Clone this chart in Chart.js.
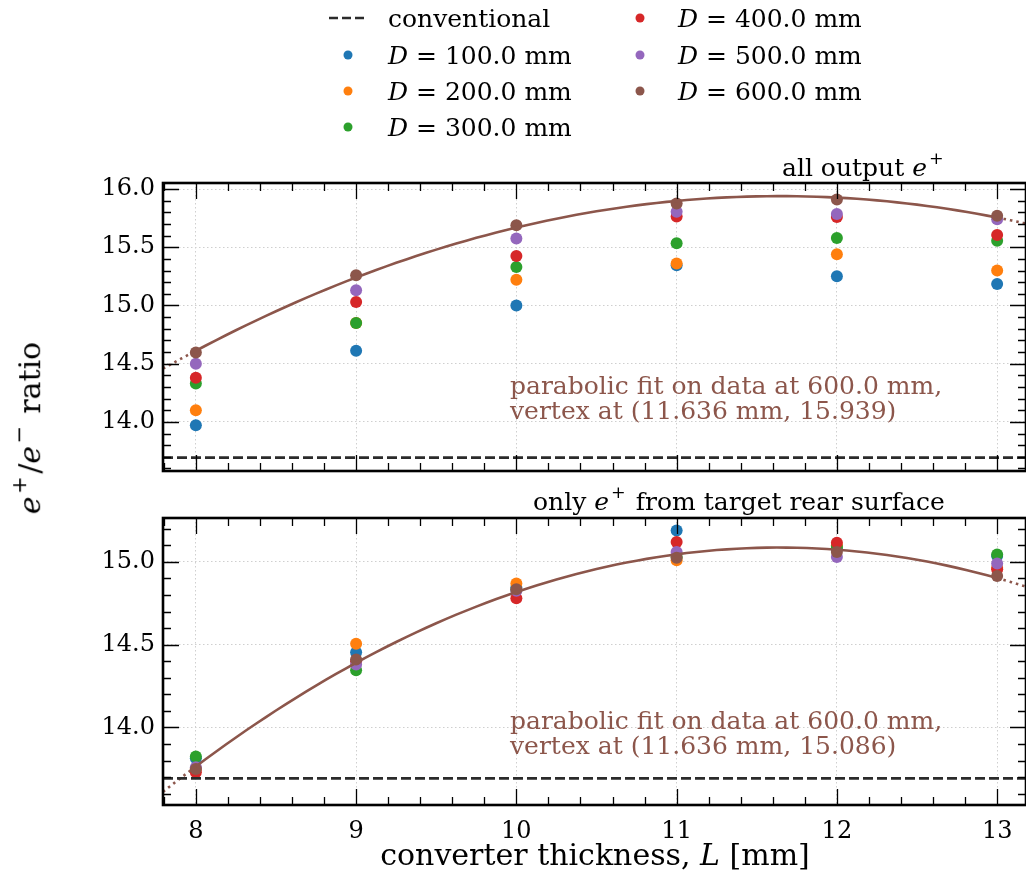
<!DOCTYPE html>
<html>
<head>
<meta charset="utf-8">
<script src="https://cdn.jsdelivr.net/npm/chart.js@4.4.1/dist/chart.umd.min.js"></script>
<style>
  body { margin: 0; background: #fff; font-family: "DejaVu Serif", serif; }
  #wrap { position: relative; width: 1026px; height: 872px; overflow: hidden; }
  canvas { position: absolute; left: 0; top: 0; }
  .txt { position: absolute; white-space: nowrap; font-size: 25px; color: #000; transform: translateY(-50%); line-height: 1; }
  .note { color: #8c564b; line-height: 24.5px; font-size: 25px; }
  .sup { font-size: 70%; vertical-align: 0.65em; margin-left: 0.12em; margin-right: 0.12em; }
  i { font-style: italic; }
  .dot { position: absolute; width: 9px; height: 9px; border-radius: 50%; transform: translate(-50%, -50%); }
  .dash { position: absolute; transform: translateY(-50%); }
</style>
</head>
<body>
<div id="wrap">
  <canvas id="topChart" width="1026" height="872"></canvas>
  <canvas id="botChart" width="1026" height="872"></canvas>

  <svg class="dash" style="left:329px; top:18px;" width="38" height="4"><line x1="0" y1="2" x2="38" y2="2" stroke="#2b2b2b" stroke-width="2.6" stroke-dasharray="9,4"/></svg>
  <div class="txt" style="left:388px; top:18px;">conventional</div>
  <div class="dot" style="left:348px; top:55px; background:#1f77b4;"></div>
  <div class="txt" style="left:388px; top:55px;"><i>D</i> = 100.0 mm</div>
  <div class="dot" style="left:348px; top:91px; background:#ff7f0e;"></div>
  <div class="txt" style="left:388px; top:91px;"><i>D</i> = 200.0 mm</div>
  <div class="dot" style="left:348px; top:127px; background:#2ca02c;"></div>
  <div class="txt" style="left:388px; top:127px;"><i>D</i> = 300.0 mm</div>
  <div class="dot" style="left:640px; top:18px; background:#d62728;"></div>
  <div class="txt" style="left:678px; top:18px;"><i>D</i> = 400.0 mm</div>
  <div class="dot" style="left:640px; top:55px; background:#9467bd;"></div>
  <div class="txt" style="left:678px; top:55px;"><i>D</i> = 500.0 mm</div>
  <div class="dot" style="left:640px; top:91px; background:#8c564b;"></div>
  <div class="txt" style="left:678px; top:91px;"><i>D</i> = 600.0 mm</div>

  <div class="txt" style="left:782px; top:165px;">all output <i>e</i><span class="sup">+</span></div>
  <div class="txt" style="left:533px; top:499px;">only <i>e</i><span class="sup">+</span> from target rear surface</div>

  <div class="txt note" style="left:510px; top:398px;">parabolic fit on data at 600.0 mm,<br>vertex at (11.636 mm, 15.939)</div>
  <div class="txt note" style="left:510px; top:733px;">parabolic fit on data at 600.0 mm,<br>vertex at (11.636 mm, 15.086)</div>

  <div class="txt" style="left:27px; top:428px; font-size:30px; transform: translate(-50%, -50%) rotate(-90deg);"><i>e</i><span class="sup">+</span>/<i>e</i><span class="sup">−</span> ratio</div>
  <div class="txt" style="left:595px; top:855px; font-size:30px; transform: translate(-50%, -50%);">converter thickness, <i>L</i> [mm]</div>
</div>
<script>
// converter thickness L [mm]
const thickness = [8, 9, 10, 11, 12, 13];
const distances = ['100.0', '200.0', '300.0', '400.0', '500.0', '600.0'];
const colors = ['#1f77b4', '#ff7f0e', '#2ca02c', '#d62728', '#9467bd', '#8c564b'];

// all output e+
const allD100 = [13.97, 14.61, 15.00, 15.345, 15.25, 15.185];
const allD200 = [14.10, 14.85, 15.22, 15.36, 15.44, 15.30];
const allD300 = [14.33, 14.85, 15.33, 15.535, 15.58, 15.555];
const allD400 = [14.38, 15.03, 15.425, 15.765, 15.76, 15.605];
const allD500 = [14.50, 15.13, 15.575, 15.805, 15.785, 15.74];
const allD600 = [14.595, 15.26, 15.69, 15.875, 15.91, 15.77];

// only e+ from target rear surface
const rearD100 = [13.815, 14.455, 14.845, 15.19, 15.08, 15.035];
const rearD200 = [13.75, 14.505, 14.87, 15.01, 15.10, 14.965];
const rearD300 = [13.825, 14.345, 14.83, 15.03, 15.09, 15.045];
const rearD400 = [13.73, 14.40, 14.78, 15.12, 15.115, 14.955];
const rearD500 = [13.76, 14.38, 14.825, 15.06, 15.03, 14.99];
const rearD600 = [13.75, 14.41, 14.835, 15.025, 15.06, 14.915];

const conventional = 13.693;

const xTicks = [8, 9, 10, 11, 12, 13];
const yTicksTop = [14.0, 14.5, 15.0, 15.5, 16.0];
const yTicksBot = [14.0, 14.5, 15.0];

const X_MIN = 7.795, X_MAX = 13.18;

// least-squares parabola through the 600 mm points
function fitParabola(xs, ys) {
    let s = [0, 0, 0, 0, 0], t = [0, 0, 0];
    xs.forEach((x, i) => {
        for (let k = 0; k < 5; k++) s[k] += Math.pow(x, k);
        for (let k = 0; k < 3; k++) t[k] += Math.pow(x, k) * ys[i];
    });
    const M = [[s[0], s[1], s[2], t[0]], [s[1], s[2], s[3], t[1]], [s[2], s[3], s[4], t[2]]];
    for (let c = 0; c < 3; c++) {
        for (let r = c + 1; r < 3; r++) {
            const f = M[r][c] / M[c][c];
            for (let k = c; k < 4; k++) M[r][k] -= f * M[c][k];
        }
    }
    const p = [0, 0, 0];
    for (let r = 2; r >= 0; r--) {
        let v = M[r][3];
        for (let k = r + 1; k < 3; k++) v -= M[r][k] * p[k];
        p[r] = v / M[r][r];
    }
    return p; // c0, c1, c2
}

function curve(p, from, to) {
    const pts = [];
    const n = 80;
    for (let i = 0; i <= n; i++) {
        const x = from + (to - from) * i / n;
        pts.push({ x: x, y: p[0] + p[1] * x + p[2] * x * x });
    }
    return pts;
}

const minorTicks = {
    id: 'minorTicks',
    afterDraw(chart, args, opts) {
        const { ctx, chartArea: a } = chart;
        const xs = chart.scales.x, ys = chart.scales.y;
        ctx.save();
        ctx.strokeStyle = '#000';
        ctx.lineWidth = 1.3;
        const tickX = (v, len) => {
            const px = Math.round(xs.getPixelForValue(v)) + 0.5;
            ctx.beginPath();
            ctx.moveTo(px, a.bottom); ctx.lineTo(px, a.bottom - len);
            ctx.moveTo(px, a.top); ctx.lineTo(px, a.top + len);
            ctx.stroke();
        };
        const tickY = (v, len) => {
            const py = Math.round(ys.getPixelForValue(v)) + 0.5;
            ctx.beginPath();
            ctx.moveTo(a.left, py); ctx.lineTo(a.left + len, py);
            ctx.moveTo(a.right, py); ctx.lineTo(a.right - len, py);
            ctx.stroke();
        };
        for (let v = 7.8; v <= 13.2001; v += 0.2) {
            const major = Math.abs(v - Math.round(v)) < 1e-6;
            tickX(v, major ? 16 : 8);
        }
        for (let v = opts.yFrom; v <= opts.yTo + 1e-6; v += 0.1) {
            const major = Math.abs(v * 2 - Math.round(v * 2)) < 1e-6;
            tickY(v, major ? 16 : 8);
        }
        ctx.lineWidth = 2.6;
        ctx.strokeRect(a.left, a.top, a.right - a.left, a.bottom - a.top);
        ctx.restore();
    }
};

function makePanel(canvasId, series, yMin, yMax, yTicks, top, bottomSpace, showX, minorFrom, minorTo) {
    const p = fitParabola(thickness, series[5]);

    const datasets = [];
    datasets.push({
        type: 'line', data: [{ x: X_MIN, y: conventional }, { x: X_MAX, y: conventional }],
        borderColor: '#2b2b2b', borderWidth: 2.6, borderDash: [10, 4], pointRadius: 0, order: 0
    });
    datasets.push({
        type: 'line', data: curve(p, 8, 13),
        borderColor: '#8c564b', borderWidth: 2.6, pointRadius: 0, order: 0
    });
    datasets.push({
        type: 'line', data: curve(p, X_MIN, 8),
        borderColor: '#8c564b', borderWidth: 2.6, borderDash: [2.5, 4], pointRadius: 0, order: 0
    });
    datasets.push({
        type: 'line', data: curve(p, 13, X_MAX),
        borderColor: '#8c564b', borderWidth: 2.6, borderDash: [2.5, 4], pointRadius: 0, order: 0
    });
    series.forEach((vals, i) => {
        datasets.push({
            type: 'scatter',
            label: 'D = ' + distances[i] + ' mm',
            data: thickness.map((x, j) => ({ x: x, y: vals[j] })),
            backgroundColor: colors[i], borderColor: colors[i],
            pointRadius: 6, pointHoverRadius: 6, borderWidth: 0,
            order: 6 - i
        });
    });

    const gridStyle = { color: '#cfcfcf', lineWidth: 1, drawTicks: false };
    return new Chart(document.getElementById(canvasId), {
        type: 'scatter',
        data: { datasets: datasets },
        options: {
            responsive: false,
            animation: false,
            devicePixelRatio: 1,
            layout: { autoPadding: false, padding: { top: top, bottom: showX ? 0 : bottomSpace, left: 0, right: 0 } },
            plugins: { legend: { display: false }, tooltip: { enabled: false }, minorTicks: { yFrom: minorFrom, yTo: minorTo } },
            elements: { line: { tension: 0, fill: false } },
            scales: {
                x: {
                    type: 'linear', min: X_MIN, max: X_MAX,
                    grid: gridStyle,
                    border: { display: false, dash: [1.5, 2.5] },
                    afterBuildTicks: s => { s.ticks = xTicks.map(v => ({ value: v })); },
                    afterFit: s => { s.height = showX ? bottomSpace : 0; },
                    ticks: {
                        display: showX, padding: 12, color: '#000',
                        font: { family: 'DejaVu Serif', size: 24 },
                        callback: v => String(v)
                    }
                },
                y: {
                    type: 'linear', min: yMin, max: yMax,
                    grid: gridStyle,
                    border: { display: false, dash: [1.5, 2.5] },
                    afterBuildTicks: s => { s.ticks = yTicks.map(v => ({ value: v })); },
                    afterFit: s => { s.width = 163; },
                    ticks: {
                        padding: 8, color: '#000',
                        font: { family: 'DejaVu Serif', size: 24 },
                        callback: v => Number(v).toFixed(1)
                    }
                }
            }
        },
        plugins: [minorTicks]
    });
}

makePanel('topChart', [allD100, allD200, allD300, allD400, allD500, allD600],
    13.578, 16.052, yTicksTop, 183, 872 - 471, false, 13.6, 16.0);
makePanel('botChart', [rearD100, rearD200, rearD300, rearD400, rearD500, rearD600],
    13.532, 15.265, yTicksBot, 518, 872 - 805, true, 13.6, 15.2);
</script>
</body>
</html>
